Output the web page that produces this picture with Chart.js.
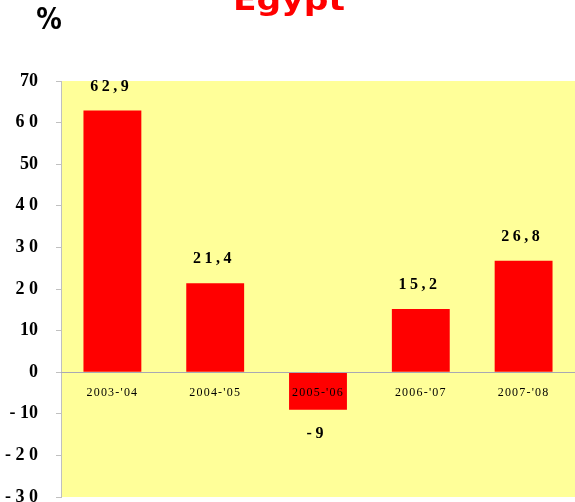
<!DOCTYPE html>
<html>
<head>
<meta charset="utf-8">
<script src="https://cdn.jsdelivr.net/npm/chart.js@4"></script>
<style>
html,body{margin:0;padding:0;background:#fff;}
#wrap{width:575px;height:502px;position:relative;}
</style>
</head>
<body>
<div id="wrap"><canvas id="c" width="575" height="502"></canvas></div>
<script>
const title = 'Egypt';
const unitLabel = '%';
const categories = ["2003-'04", "2004-'05", "2005-'06", "2006-'07", "2007-'08"];
const values = [62.9, 21.4, -9, 15.2, 26.8];
const yTickLabels = ['70', '6 0', '50', '4 0', '3 0', '2 0', '10', '0', '- 10', '- 2 0', '- 3 0'];
const yMin = -30, yMax = 70, yStep = 10;

const bgPlugin = {
  id: 'bg',
  beforeDraw(chart) {
    const {ctx, chartArea: a} = chart;
    ctx.save();
    ctx.fillStyle = '#FFFF99';
    ctx.fillRect(a.left, a.top, a.right - a.left, a.bottom - a.top);
    ctx.restore();
  }
};

const labelsPlugin = {
  id: 'vlabels',
  afterDatasetsDraw(chart) {
    const {ctx} = chart;
    const meta = chart.getDatasetMeta(0);
    ctx.save();
    ctx.font = 'bold 16px "Liberation Serif"';
    ctx.fillStyle = '#000';
    ctx.textBaseline = 'middle';
    ctx.textAlign = 'left';
    const ls = 3.5;
    if ('letterSpacing' in ctx) ctx.letterSpacing = ls + 'px';
    meta.data.forEach((bar, i) => {
      const v = values[i];
      const txt = String(v).replace('.', ',');
      const w = ctx.measureText(txt).width - ls;
      const y = v >= 0 ? bar.y - 24 : bar.y + 24;
      ctx.fillText(txt, bar.x - 3 - w / 2, y);
    });
    ctx.restore();
    if ('letterSpacing' in ctx) ctx.letterSpacing = '1.2px';
  },
  afterDraw(chart) {
    const {ctx} = chart;
    if ('letterSpacing' in ctx) ctx.letterSpacing = '0px';
    ctx.save();
    ctx.textAlign = 'center';
    ctx.textBaseline = 'alphabetic';
    ctx.fillStyle = '#FF0000';
    ctx.font = 'bold 30px "DejaVu Sans"';
    const w = ctx.measureText(title).width;
    ctx.translate(289, 10);
    ctx.scale(112 / w, 1);
    ctx.fillText(title, 0, 0);
    ctx.restore();
    ctx.save();
    ctx.textAlign = 'center';
    ctx.textBaseline = 'alphabetic';
    ctx.fillStyle = '#000';
    ctx.font = 'bold 29px "DejaVu Sans"';
    ctx.translate(49, 29);
    ctx.scale(0.88, 1.05);
    ctx.fillText(unitLabel, 0, 0);
    ctx.restore();
  }
};

new Chart(document.getElementById('c'), {
  type: 'bar',
  data: {
    labels: categories,
    datasets: [{
      data: values,
      backgroundColor: '#FF0000',
      borderWidth: 0,
      categoryPercentage: 1.0,
      barPercentage: 0.563
    }]
  },
  options: {
    responsive: false,
    animation: false,
    events: [],
    layout: {padding: {top: 81, right: 0, bottom: 5, left: 0}},
    plugins: {legend: {display: false}, title: {display: false}, tooltip: {enabled: false}},
    scales: {
      x: {
        type: 'category',
        position: {y: 0},
        offset: true,
        grid: {display: false, drawTicks: false},
        border: {display: true, color: '#A8A8B4', width: 1, z: 1},
        ticks: {
          z: 1,
          font: {family: '"Liberation Serif"', size: 12},
          color: '#000',
          padding: 13,
          maxRotation: 0,
          autoSkip: false
        },
        afterFit(s) { s.paddingLeft = 0; s.paddingRight = 0; }
      },
      y: {
        min: yMin,
        max: yMax,
        grid: {drawOnChartArea: false, drawTicks: true, tickLength: 5, color: '#C0C0C0'},
        border: {display: true, color: '#C0C0C0', width: 1},
        ticks: {
          stepSize: yStep,
          font: {family: '"Liberation Serif"', size: 18, weight: 'bold'},
          color: '#000',
          padding: 18,
          callback: (v, i) => yTickLabels[yTickLabels.length - 1 - i]
        },
        afterFit(s) { s.width = 61; s.paddingTop = 0; s.paddingBottom = 0; }
      }
    }
  },
  plugins: [bgPlugin, labelsPlugin]
});
</script>
</body>
</html>
